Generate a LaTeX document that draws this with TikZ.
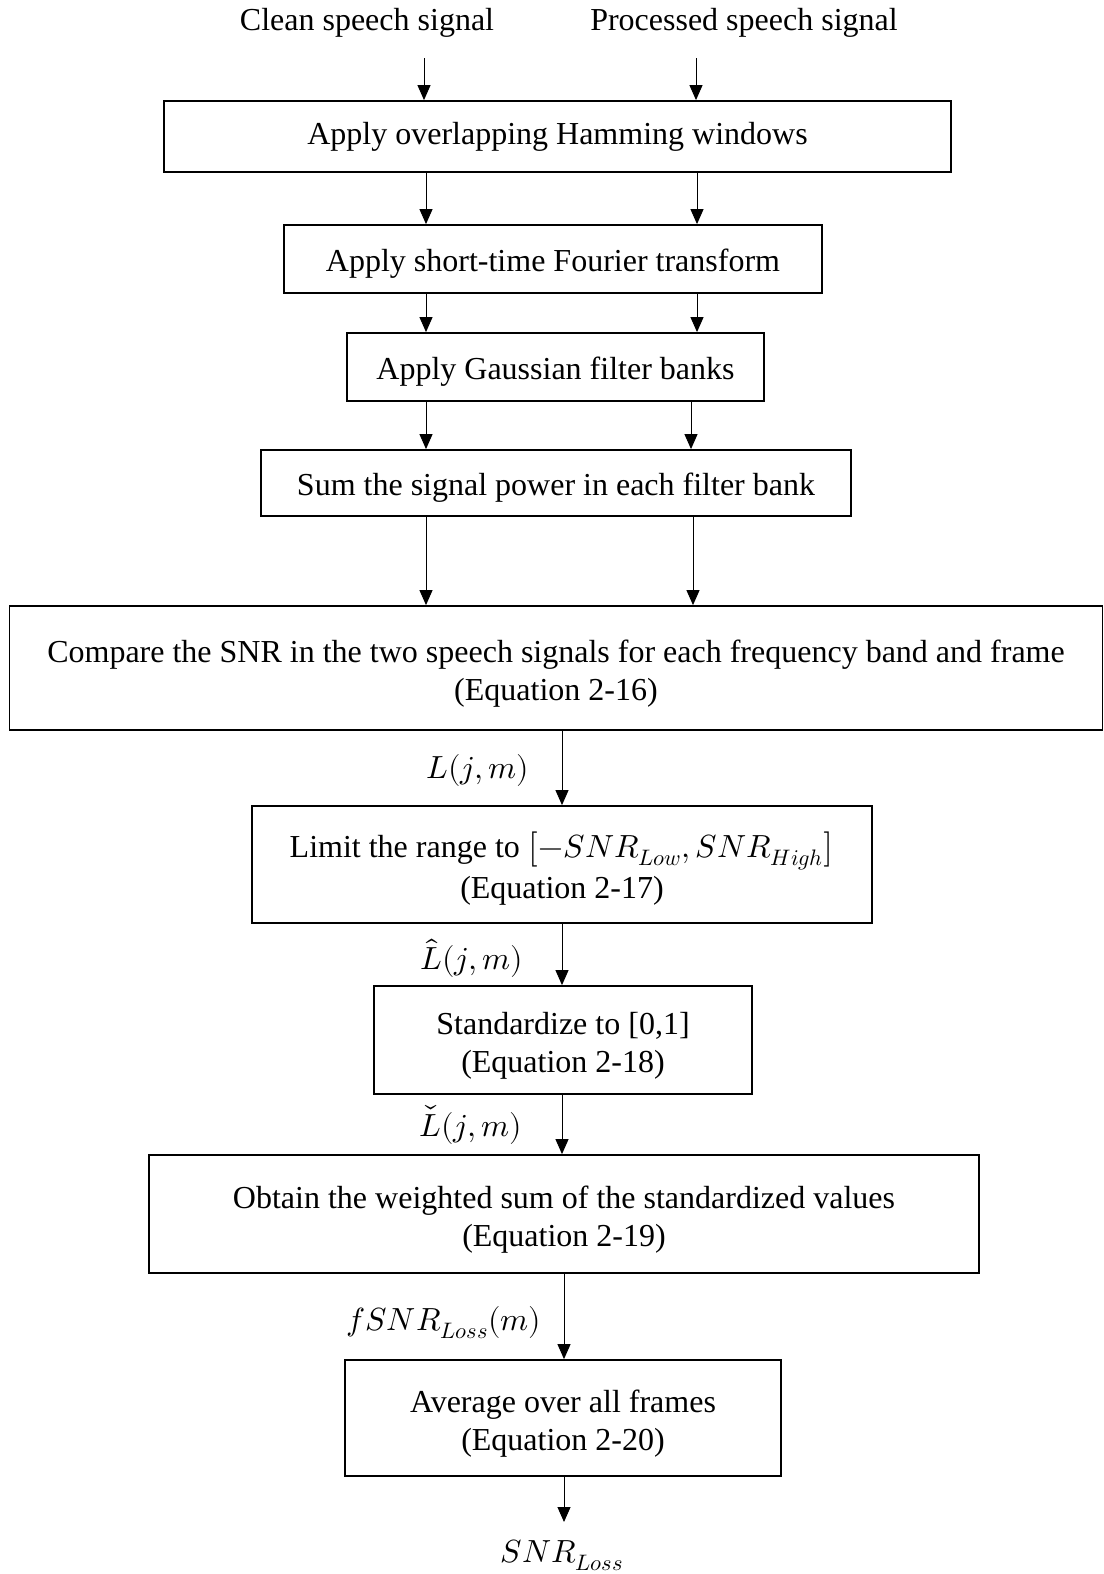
\documentclass[tikz,border=0pt]{standalone}
\usepackage{fontspec}
\usepackage{unicode-math}
\setmainfont{Liberation Serif}
\setmathfont{Latin Modern Math}
\usetikzlibrary{arrows.meta}
\newcommand\tstrut{\rule{0pt}{31pt}}
\newcommand\dstrut{\rule{0pt}{34pt}}
\begin{document}
\begin{tikzpicture}[x=1pt,y=1pt,
 box/.style={draw,line width=1.8pt,inner sep=0pt,align=center,font=\fontsize{32}{38}\selectfont},
 lab/.style={inner sep=0pt,font=\fontsize{32}{38}\selectfont},
 arr/.style={line width=1pt,-{Triangle[length=15pt,width=13pt]}}]
\useasboundingbox (0,0) rectangle (1103,-1574);
% inputs
\node[lab] (clean) at (367,-23) {Clean speech signal};
\node[lab] (proc) at (744,-23) {Processed speech signal};
% boxes
\node[box,minimum width=787pt,minimum height=71pt] (b1) at (557.5,-136.5) {Apply overlapping Hamming windows};
\node[box,minimum width=538pt,minimum height=68pt] (b2) at (553,-259) {\tstrut Apply short-time Fourier transform};
\node[box,minimum width=417pt,minimum height=68pt] (b3) at (555.5,-367) {\tstrut Apply Gaussian filter banks};
\node[box,minimum width=590pt,minimum height=66pt] (b4) at (556,-483) {\tstrut Sum the signal power in each filter bank};
\node[box,minimum width=1093pt,minimum height=124pt] (b5) at (556,-668) {\dstrut Compare the SNR in the two speech signals for each frequency band and frame\\(Equation 2-16)};
\node[box,minimum width=620pt,minimum height=117pt] (b6) at (562,-864.5) {\dstrut Limit the range to $\bigl[-SNR_{Low},SNR_{High}\bigr]$\\[3pt](Equation 2-17)};
\node[box,minimum width=378pt,minimum height=108pt] (b7) at (563,-1040) {\dstrut Standardize to [0,1]\\(Equation 2-18)};
\node[box,minimum width=830pt,minimum height=118pt] (b8) at (564,-1214) {\dstrut Obtain the weighted sum of the standardized values\\(Equation 2-19)};
\node[box,minimum width=436pt,minimum height=116pt] (b9) at (563,-1418) {\dstrut Average over all frames\\(Equation 2-20)};
% labels
\node[lab] (l1) at (478,-770) {$L(j,m)$};
\node[lab] (l2) at (472,-958) {$\hat{L}(j,m)$};
\node[lab] (l3) at (471,-1125) {$\check{L}(j,m)$};
\node[lab] (l4) at (444,-1323) {$fSNR_{Loss}(m)$};
\node[lab] (out) at (562,-1555) {$SNR_{Loss}$};
% column coordinates
\coordinate (t1) at (424,-58);
\coordinate (t2) at (696,-58);
\coordinate (xa) at (426,0);
\coordinate (xb) at (697,0);
\coordinate (xc) at (691,0);
\coordinate (xd) at (693,0);
\coordinate (xe) at (562,0);
\coordinate (xf) at (564,0);
\coordinate (oend) at (564,-1522);
% arrows
\draw[arr] (t1) -- (b1.north -| t1);
\draw[arr] (t2) -- (b1.north -| t2);
\draw[arr] (b1.south -| xa) -- (b2.north -| xa);
\draw[arr] (b1.south -| xb) -- (b2.north -| xb);
\draw[arr] (b2.south -| xa) -- (b3.north -| xa);
\draw[arr] (b2.south -| xb) -- (b3.north -| xb);
\draw[arr] (b3.south -| xa) -- (b4.north -| xa);
\draw[arr] (b3.south -| xc) -- (b4.north -| xc);
\draw[arr] (b4.south -| xa) -- (b5.north -| xa);
\draw[arr] (b4.south -| xd) -- (b5.north -| xd);
\draw[arr] (b5.south -| xe) -- (b6.north -| xe);
\draw[arr] (b6.south -| xe) -- (b7.north -| xe);
\draw[arr] (b7.south -| xe) -- (b8.north -| xe);
\draw[arr] (b8.south -| xf) -- (b9.north -| xf);
\draw[arr] (b9.south -| xf) -- (oend);
\end{tikzpicture}
\end{document}
